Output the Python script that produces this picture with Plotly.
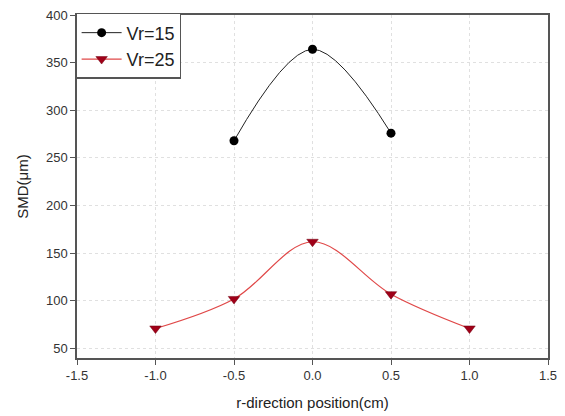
import plotly.graph_objects as go

x15 = [-0.5, 0.0, 0.5]
y15 = [268, 364, 276]
x25 = [-1.0, -0.5, 0.0, 0.5, 1.0]
y25 = [71, 102, 162, 107, 71]

fig = go.Figure()
fig.add_trace(go.Scatter(x=x15, y=y15, mode="lines+markers", name="Vr=15",
                         line=dict(color="#222222", width=1, shape="spline"),
                         marker=dict(symbol="circle", size=9, color="black")))
fig.add_trace(go.Scatter(x=x25, y=y25, mode="lines+markers", name="Vr=25",
                         line=dict(color="#e04848", width=1.2, shape="spline"),
                         marker=dict(symbol="triangle-down", size=10, color="#a00018",
                                     line=dict(color="#700010", width=0.5))))

font_fam = "Liberation Sans, Arial"
axis_common = dict(showline=True, linecolor="#555555", linewidth=1.5, mirror=True,
                   ticks="outside", ticklen=5, tickcolor="#555555",
                   showgrid=True, gridcolor="#e0e0e0", griddash="dot", gridwidth=1,
                   zeroline=False, automargin=False,
                   tickfont=dict(family=font_fam, size=13, color="#333333"),
                   title_font=dict(family=font_fam, size=15, color="#222222"))
fig.update_xaxes(range=[-1.5, 1.5], tickvals=[-1.5, -1.0, -0.5, 0.0, 0.5, 1.0, 1.5],
                 ticktext=["-1.5", "-1.0", "-0.5", "0.0", "0.5", "1.0", "1.5"],
                 title_text="r-direction position(cm)", title_standoff=15, **axis_common)
fig.update_yaxes(range=[40, 400], tickvals=[50, 100, 150, 200, 250, 300, 350, 400],
                 title_text="SMD(μm)", title_standoff=14, **axis_common)

fig.update_layout(width=565, height=416, plot_bgcolor="white", paper_bgcolor="white",
                  margin=dict(l=77, r=17, t=15, b=58),
                  legend=dict(x=-0.004, y=1.006, xanchor="left", yanchor="top",
                              bordercolor="#555555", borderwidth=1.5, bgcolor="white",
                              font=dict(family=font_fam, size=18, color="#222222"),
                              itemwidth=40, tracegroupgap=0))
fig.write_html("out.html")
